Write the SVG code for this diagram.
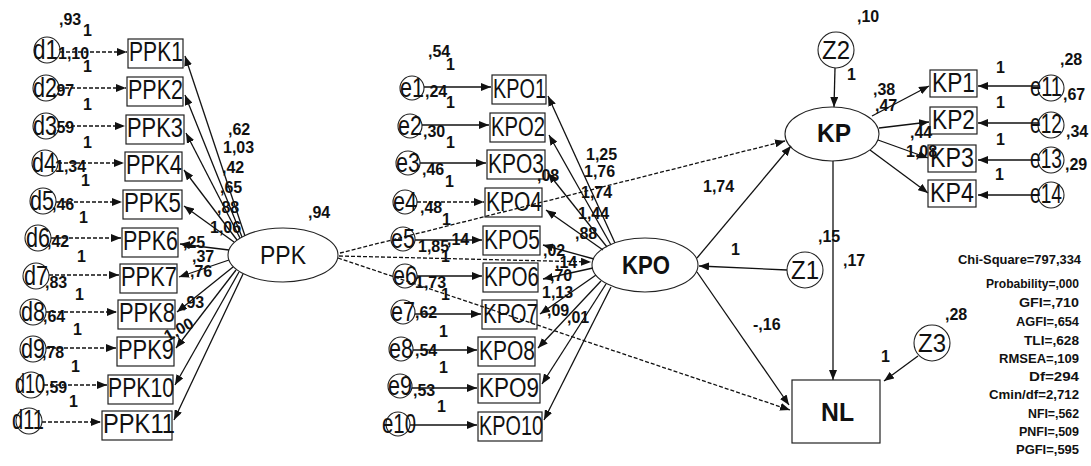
<svg xmlns="http://www.w3.org/2000/svg" width="1091" height="466" viewBox="0 0 1091 466">
<defs>
<marker id="a" viewBox="0 0 10 8" refX="10" refY="4" markerWidth="10" markerHeight="8" markerUnits="userSpaceOnUse" orient="auto"><path d="M0,0 L10,4 L0,8 z" fill="#111"/></marker>
<style>
.ln{stroke:#111;stroke-width:1.3;fill:none;marker-end:url(#a)}
.ds{stroke-dasharray:4 2}
.bx{fill:none;stroke:#222;stroke-width:1.2}
.ci{fill:none;stroke:#222;stroke-width:1.1}
text{font-family:"Liberation Sans",Arial,sans-serif;fill:#111}
.lb{font-size:16px;font-weight:bold}
.nm{font-size:27px}
.lv{font-size:25px}
.st{font-size:13px;font-weight:bold}
</style>
</defs>
<rect width="1091" height="466" fill="#fff"/>

<g id="connectors">
<line class="ln ds" x1="60" y1="52" x2="127" y2="52"/>
<line class="ln ds" x1="59" y1="88" x2="126" y2="88"/>
<line class="ln ds" x1="59" y1="126" x2="125" y2="126"/>
<line class="ln ds" x1="58" y1="163" x2="124" y2="163"/>
<line class="ln ds" x1="56" y1="202" x2="122" y2="202"/>
<line class="ln ds" x1="51" y1="238" x2="121" y2="238"/>
<line class="ln ds" x1="49" y1="275" x2="119" y2="275"/>
<line class="ln ds" x1="46" y1="312" x2="117" y2="312"/>
<line class="ln ds" x1="46" y1="348" x2="116" y2="348"/>
<line class="ln ds" x1="44" y1="385" x2="107" y2="385"/>
<line class="ln ds" x1="42" y1="422" x2="101" y2="422"/>
<line class="ln" x1="245" y1="236" x2="185" y2="56"/>
<line class="ln" x1="242" y1="237" x2="185" y2="95"/>
<line class="ln" x1="240" y1="238" x2="186" y2="133"/>
<line class="ln" x1="237" y1="240" x2="184" y2="170"/>
<line class="ln" x1="234" y1="242" x2="184" y2="206"/>
<line class="ln" x1="229" y1="250" x2="180" y2="244"/>
<line class="ln" x1="229" y1="260" x2="179" y2="277"/>
<line class="ln" x1="233" y1="267" x2="177" y2="312"/>
<line class="ln" x1="236" y1="270" x2="176" y2="348"/>
<line class="ln" x1="239" y1="272" x2="175" y2="385"/>
<line class="ln" x1="243" y1="274" x2="174" y2="420"/>
<line class="ln" x1="424" y1="87" x2="491" y2="87"/>
<line class="ln" x1="422" y1="125" x2="489" y2="125"/>
<line class="ln" x1="420" y1="163" x2="486" y2="163"/>
<line class="ln ds" x1="417" y1="202" x2="484" y2="202"/>
<line class="ln" x1="415" y1="240" x2="482" y2="240"/>
<line class="ln" x1="417" y1="276" x2="482" y2="276"/>
<line class="ln" x1="415" y1="314" x2="481" y2="314"/>
<line class="ln" x1="413" y1="350" x2="477" y2="350"/>
<line class="ln" x1="412" y1="388" x2="477" y2="388"/>
<line class="ln" x1="410" y1="425" x2="477" y2="425"/>
<line class="ln" x1="615" y1="243" x2="548" y2="96"/>
<line class="ln" x1="611" y1="245" x2="549" y2="135"/>
<line class="ln" x1="607" y1="247" x2="548" y2="173"/>
<line class="ln" x1="603" y1="250" x2="546" y2="210"/>
<line class="ln" x1="594" y1="259" x2="543" y2="245"/>
<line class="ln" x1="593" y1="268" x2="543" y2="279"/>
<line class="ln" x1="596" y1="275" x2="540" y2="314"/>
<line class="ln" x1="601" y1="281" x2="538" y2="348"/>
<line class="ln" x1="606" y1="284" x2="542" y2="384"/>
<line class="ln" x1="611" y1="287" x2="544" y2="420"/>
<line class="ln ds" x1="340" y1="253" x2="785" y2="141"/>
<line class="ln ds" x1="339" y1="256" x2="591" y2="262"/>
<line class="ln ds" x1="338" y1="258" x2="790" y2="410"/>
<line class="ln" x1="697" y1="258" x2="791" y2="146"/>
<line class="ln" x1="697" y1="272" x2="789" y2="405"/>
<line class="ln" x1="787" y1="270" x2="699" y2="266"/>
<line class="ln" x1="835" y1="68" x2="834" y2="107"/>
<line class="ln" x1="833" y1="161" x2="833" y2="380"/>
<line class="ln" x1="918" y1="356" x2="884" y2="381"/>
<line class="ln" x1="872" y1="116" x2="929" y2="86"/>
<line class="ln" x1="879" y1="128" x2="929" y2="122"/>
<line class="ln" x1="878" y1="140" x2="928" y2="158"/>
<line class="ln" x1="870" y1="150" x2="928" y2="193"/>
<line class="ln" x1="1038" y1="86" x2="978" y2="86"/>
<line class="ln" x1="1038" y1="123" x2="978" y2="123"/>
<line class="ln" x1="1038" y1="160" x2="978" y2="160"/>
<line class="ln" x1="1038" y1="195" x2="978" y2="195"/>
</g>

<g id="d1"><circle class="ci" cx="47" cy="50" r="13"/><text class="nm" x="33" y="59" textLength="25" lengthAdjust="spacingAndGlyphs">d1</text></g>
<g id="d2"><circle class="ci" cx="46" cy="88" r="13"/><text class="nm" x="33" y="97" textLength="24" lengthAdjust="spacingAndGlyphs">d2</text></g>
<g id="d3"><circle class="ci" cx="46" cy="126" r="13"/><text class="nm" x="33" y="135" textLength="24" lengthAdjust="spacingAndGlyphs">d3</text></g>
<g id="d4"><circle class="ci" cx="45" cy="163" r="13"/><text class="nm" x="32" y="172" textLength="24" lengthAdjust="spacingAndGlyphs">d4</text></g>
<g id="d5"><circle class="ci" cx="43" cy="201" r="13"/><text class="nm" x="30" y="210" textLength="24" lengthAdjust="spacingAndGlyphs">d5</text></g>
<g id="d6"><circle class="ci" cx="38" cy="238" r="13"/><text class="nm" x="26" y="247" textLength="24" lengthAdjust="spacingAndGlyphs">d6</text></g>
<g id="d7"><circle class="ci" cx="36" cy="276" r="13"/><text class="nm" x="24" y="285" textLength="24" lengthAdjust="spacingAndGlyphs">d7</text></g>
<g id="d8"><circle class="ci" cx="33" cy="312" r="13"/><text class="nm" x="21" y="321" textLength="24" lengthAdjust="spacingAndGlyphs">d8</text></g>
<g id="d9"><circle class="ci" cx="33" cy="349" r="13"/><text class="nm" x="21" y="358" textLength="24" lengthAdjust="spacingAndGlyphs">d9</text></g>
<g id="d10"><circle class="ci" cx="31" cy="385" r="13"/><text class="nm" x="15" y="393" textLength="30" lengthAdjust="spacingAndGlyphs">d10</text></g>
<g id="d11"><circle class="ci" cx="29" cy="421" r="13"/><text class="nm" x="12" y="429" textLength="32" lengthAdjust="spacingAndGlyphs">d11</text></g>

<g id="PPK1"><rect class="bx" x="128" y="39" width="55" height="29"/><text class="nm" x="129" y="61" textLength="54" lengthAdjust="spacingAndGlyphs">PPK1</text></g>
<g id="PPK2"><rect class="bx" x="127" y="77" width="56" height="29"/><text class="nm" x="128" y="99" textLength="55" lengthAdjust="spacingAndGlyphs">PPK2</text></g>
<g id="PPK3"><rect class="bx" x="126" y="115" width="58" height="29"/><text class="nm" x="127" y="137" textLength="56" lengthAdjust="spacingAndGlyphs">PPK3</text></g>
<g id="PPK4"><rect class="bx" x="125" y="152" width="57" height="29"/><text class="nm" x="126" y="174" textLength="56" lengthAdjust="spacingAndGlyphs">PPK4</text></g>
<g id="PPK5"><rect class="bx" x="123" y="190" width="59" height="29"/><text class="nm" x="124" y="212" textLength="57" lengthAdjust="spacingAndGlyphs">PPK5</text></g>
<g id="PPK6"><rect class="bx" x="122" y="228" width="56" height="29"/><text class="nm" x="123" y="250" textLength="55" lengthAdjust="spacingAndGlyphs">PPK6</text></g>
<g id="PPK7"><rect class="bx" x="120" y="264" width="57" height="29"/><text class="nm" x="121" y="286" textLength="56" lengthAdjust="spacingAndGlyphs">PPK7</text></g>
<g id="PPK8"><rect class="bx" x="118" y="300" width="57" height="29"/><text class="nm" x="119" y="322" textLength="56" lengthAdjust="spacingAndGlyphs">PPK8</text></g>
<g id="PPK9"><rect class="bx" x="117" y="337" width="57" height="29"/><text class="nm" x="118" y="359" textLength="56" lengthAdjust="spacingAndGlyphs">PPK9</text></g>
<g id="PPK10"><rect class="bx" x="108" y="375" width="65" height="29"/><text class="nm" x="108" y="397" textLength="66" lengthAdjust="spacingAndGlyphs">PPK10</text></g>
<g id="PPK11"><rect class="bx" x="102" y="411" width="70" height="29"/><text class="nm" x="103" y="433" textLength="72" lengthAdjust="spacingAndGlyphs">PPK11</text></g>

<g id="PPK"><ellipse class="ci" cx="283" cy="255" rx="55" ry="27"/><text class="lv" x="260" y="264" textLength="46" lengthAdjust="spacingAndGlyphs">PPK</text></g>

<g id="e1"><circle class="ci" cx="412" cy="88" r="12"/><text class="nm" x="400" y="97" textLength="24" lengthAdjust="spacingAndGlyphs">e1</text></g>
<g id="e2"><circle class="ci" cx="410" cy="126" r="12"/><text class="nm" x="398" y="135" textLength="24" lengthAdjust="spacingAndGlyphs">e2</text></g>
<g id="e3"><circle class="ci" cx="408" cy="163" r="12"/><text class="nm" x="396" y="172" textLength="24" lengthAdjust="spacingAndGlyphs">e3</text></g>
<g id="e4"><circle class="ci" cx="405" cy="202" r="12"/><text class="nm" x="393" y="211" textLength="24" lengthAdjust="spacingAndGlyphs">e4</text></g>
<g id="e5"><circle class="ci" cx="403" cy="239" r="12"/><text class="nm" x="391" y="248" textLength="24" lengthAdjust="spacingAndGlyphs">e5</text></g>
<g id="e6"><circle class="ci" cx="405" cy="276" r="12"/><text class="nm" x="393" y="285" textLength="24" lengthAdjust="spacingAndGlyphs">e6</text></g>
<g id="e7"><circle class="ci" cx="403" cy="312" r="12"/><text class="nm" x="391" y="321" textLength="24" lengthAdjust="spacingAndGlyphs">e7</text></g>
<g id="e8"><circle class="ci" cx="401" cy="349" r="12"/><text class="nm" x="389" y="358" textLength="24" lengthAdjust="spacingAndGlyphs">e8</text></g>
<g id="e9"><circle class="ci" cx="400" cy="386" r="12"/><text class="nm" x="388" y="395" textLength="24" lengthAdjust="spacingAndGlyphs">e9</text></g>
<g id="e10"><circle class="ci" cx="398" cy="424" r="12"/><text class="nm" x="382" y="433" textLength="34" lengthAdjust="spacingAndGlyphs">e10</text></g>

<g id="KPO1"><rect class="bx" x="492" y="75" width="54" height="29"/><text class="nm" x="493" y="98" textLength="53" lengthAdjust="spacingAndGlyphs">KPO1</text></g>
<g id="KPO2"><rect class="bx" x="490" y="113" width="55" height="29"/><text class="nm" x="491" y="136" textLength="54" lengthAdjust="spacingAndGlyphs">KPO2</text></g>
<g id="KPO3"><rect class="bx" x="487" y="150" width="58" height="29"/><text class="nm" x="488" y="173" textLength="56" lengthAdjust="spacingAndGlyphs">KPO3</text></g>
<g id="KPO4"><rect class="bx" x="485" y="188" width="57" height="29"/><text class="nm" x="486" y="211" textLength="56" lengthAdjust="spacingAndGlyphs">KPO4</text></g>
<g id="KPO5"><rect class="bx" x="483" y="226" width="57" height="29"/><text class="nm" x="484" y="249" textLength="56" lengthAdjust="spacingAndGlyphs">KPO5</text></g>
<g id="KPO6"><rect class="bx" x="483" y="263" width="55" height="29"/><text class="nm" x="484" y="286" textLength="55" lengthAdjust="spacingAndGlyphs">KPO6</text></g>
<g id="KPO7"><rect class="bx" x="482" y="300" width="55" height="29"/><text class="nm" x="483" y="323" textLength="55" lengthAdjust="spacingAndGlyphs">KPO7</text></g>
<g id="KPO8"><rect class="bx" x="478" y="337" width="57" height="29"/><text class="nm" x="479" y="360" textLength="56" lengthAdjust="spacingAndGlyphs">KPO8</text></g>
<g id="KPO9"><rect class="bx" x="478" y="374" width="62" height="29"/><text class="nm" x="479" y="397" textLength="60" lengthAdjust="spacingAndGlyphs">KPO9</text></g>
<g id="KPO10"><rect class="bx" x="478" y="412" width="64" height="29"/><text class="nm" x="479" y="435" textLength="64" lengthAdjust="spacingAndGlyphs">KPO10</text></g>

<g id="KPO"><ellipse class="ci" cx="645" cy="265" rx="53" ry="27"/><text class="lv" x="622" y="274" font-weight="bold" textLength="48" lengthAdjust="spacingAndGlyphs">KPO</text></g>

<g id="KP"><ellipse class="ci" cx="832" cy="134" rx="47" ry="27"/><text class="lv" x="817" y="142" font-weight="bold" textLength="34" lengthAdjust="spacingAndGlyphs">KP</text></g>

<g id="Z1"><circle class="ci" cx="805" cy="270" r="18"/><text class="lv" x="791" y="279" textLength="28" lengthAdjust="spacingAndGlyphs">Z1</text></g>
<g id="Z2"><circle class="ci" cx="836" cy="50" r="18"/><text class="lv" x="822" y="59" textLength="28" lengthAdjust="spacingAndGlyphs">Z2</text></g>
<g id="Z3"><circle class="ci" cx="932" cy="343" r="18"/><text class="lv" x="918" y="352" textLength="28" lengthAdjust="spacingAndGlyphs">Z3</text></g>

<g id="KP1"><rect class="bx" x="930" y="70" width="47" height="27"/><text class="nm" x="932" y="92" textLength="43" lengthAdjust="spacingAndGlyphs">KP1</text></g>
<g id="KP2"><rect class="bx" x="930" y="107" width="47" height="27"/><text class="nm" x="932" y="129" textLength="43" lengthAdjust="spacingAndGlyphs">KP2</text></g>
<g id="KP3"><rect class="bx" x="928" y="145" width="48" height="27"/><text class="nm" x="930" y="167" textLength="44" lengthAdjust="spacingAndGlyphs">KP3</text></g>
<g id="KP4"><rect class="bx" x="928" y="180" width="48" height="27"/><text class="nm" x="930" y="202" textLength="44" lengthAdjust="spacingAndGlyphs">KP4</text></g>

<g id="e11"><circle class="ci" cx="1051" cy="88" r="13"/><text class="nm" x="1030" y="96" textLength="32" lengthAdjust="spacingAndGlyphs">e11</text></g>
<g id="e12"><circle class="ci" cx="1051" cy="125" r="13"/><text class="nm" x="1030" y="133" textLength="32" lengthAdjust="spacingAndGlyphs">e12</text></g>
<g id="e13"><circle class="ci" cx="1051" cy="160" r="13"/><text class="nm" x="1030" y="168" textLength="32" lengthAdjust="spacingAndGlyphs">e13</text></g>
<g id="e14"><circle class="ci" cx="1051" cy="195" r="13"/><text class="nm" x="1030" y="203" textLength="32" lengthAdjust="spacingAndGlyphs">e14</text></g>

<g id="NL"><rect class="bx" x="792" y="380" width="88" height="63"/><text class="lv" x="821" y="421" font-weight="bold" textLength="33" lengthAdjust="spacingAndGlyphs">NL</text></g>

<g id="labels">
<text class="lb" x="59" y="25">,93</text><text class="lb" x="83" y="36">1</text>
<text class="lb" x="58" y="59">1,10</text><text class="lb" x="83" y="72">1</text>
<text class="lb" x="52" y="96">,97</text><text class="lb" x="83" y="110">1</text>
<text class="lb" x="52" y="133">,59</text><text class="lb" x="83" y="148">1</text>
<text class="lb" x="55" y="172">1,34</text><text class="lb" x="81" y="186">1</text>
<text class="lb" x="52" y="210">,46</text><text class="lb" x="79" y="223">1</text>
<text class="lb" x="47" y="247">,42</text><text class="lb" x="77" y="262">1</text>
<text class="lb" x="45" y="288">,83</text><text class="lb" x="75" y="300">1</text>
<text class="lb" x="43" y="322">,64</text><text class="lb" x="73" y="335">1</text>
<text class="lb" x="42" y="358">,78</text><text class="lb" x="71" y="372">1</text>
<text class="lb" x="45" y="393">,59</text><text class="lb" x="69" y="407">1</text>

<text class="lb" x="228" y="135">,62</text>
<text class="lb" x="223" y="153">1,03</text>
<text class="lb" x="222" y="173">,42</text>
<text class="lb" x="220" y="193">,65</text>
<text class="lb" x="217" y="213">,88</text>
<text class="lb" x="210" y="233">1,06</text>
<text class="lb" x="183" y="248">,25</text>
<text class="lb" x="192" y="262">,37</text>
<text class="lb" x="190" y="277">,76</text>
<text class="lb" x="182" y="308">,93</text>
<text class="lb" x="168" y="342" transform="rotate(-30 168 342)">1,00</text>
<text class="lb" x="308" y="218">,94</text>

<text class="lb" x="428" y="57">,54</text><text class="lb" x="446" y="70">1</text>
<text class="lb" x="425" y="97">,24</text><text class="lb" x="446" y="108">1</text>
<text class="lb" x="423" y="137">,30</text><text class="lb" x="446" y="148">1</text>
<text class="lb" x="422" y="175">,46</text><text class="lb" x="445" y="187">1</text>
<text class="lb" x="420" y="213">,48</text><text class="lb" x="442" y="225">1</text>
<text class="lb" x="418" y="252">1,85</text><text class="lb" x="447" y="245">,14</text><text class="lb" x="441" y="262">1</text>
<text class="lb" x="415" y="288">1,73</text><text class="lb" x="441" y="300">1</text>
<text class="lb" x="415" y="318">,62</text><text class="lb" x="439" y="337">1</text>
<text class="lb" x="415" y="356">,54</text><text class="lb" x="439" y="373">1</text>
<text class="lb" x="413" y="396">,53</text><text class="lb" x="437" y="412">1</text>

<text class="lb" x="586" y="160">1,25</text>
<text class="lb" x="584" y="177">1,76</text>
<text class="lb" x="581" y="198">1,74</text>
<text class="lb" x="578" y="219">1,44</text>
<text class="lb" x="575" y="239">,88</text>
<text class="lb" x="537" y="181">,08</text>
<text class="lb" x="543" y="256">,02</text>
<text class="lb" x="555" y="268">,14</text>
<text class="lb" x="550" y="281">,70</text>
<text class="lb" x="542" y="298">1,13</text>
<text class="lb" x="547" y="316">,09</text>
<text class="lb" x="567" y="323">,01</text>

<text class="lb" x="703" y="192">1,74</text>
<text class="lb" x="731" y="255">1</text>
<text class="lb" x="753" y="330">-,16</text>
<text class="lb" x="818" y="242">,15</text>
<text class="lb" x="843" y="266">,17</text>
<text class="lb" x="881" y="362">1</text>
<text class="lb" x="945" y="320">,28</text>
<text class="lb" x="857" y="22">,10</text>
<text class="lb" x="847" y="80">1</text>

<text class="lb" x="873" y="95">,38</text>
<text class="lb" x="875" y="111">,47</text>
<text class="lb" x="910" y="138">,44</text>
<text class="lb" x="906" y="157">1,08</text>
<text class="lb" x="996" y="73">1</text>
<text class="lb" x="996" y="108">1</text>
<text class="lb" x="996" y="145">1</text>
<text class="lb" x="995" y="180">1</text>
<text class="lb" x="1060" y="65">,28</text>
<text class="lb" x="1063" y="100">,67</text>
<text class="lb" x="1066" y="137">,34</text>
<text class="lb" x="1065" y="170">,29</text>
</g>

<g id="fit">
<text class="st" x="958" y="264" textLength="123" lengthAdjust="spacingAndGlyphs">Chi-Square=797,334</text>
<text class="st" x="986" y="288" textLength="93" lengthAdjust="spacingAndGlyphs">Probability=,000</text>
<text class="st" x="1019" y="307" textLength="60" lengthAdjust="spacingAndGlyphs">GFI=,710</text>
<text class="st" x="1016" y="326" textLength="63" lengthAdjust="spacingAndGlyphs">AGFI=,654</text>
<text class="st" x="1024" y="345" textLength="55" lengthAdjust="spacingAndGlyphs">TLI=,628</text>
<text class="st" x="999" y="363" textLength="80" lengthAdjust="spacingAndGlyphs">RMSEA=,109</text>
<text class="st" x="1029" y="381" textLength="50" lengthAdjust="spacingAndGlyphs">Df=294</text>
<text class="st" x="989" y="399" textLength="90" lengthAdjust="spacingAndGlyphs">Cmin/df=2,712</text>
<text class="st" x="1028" y="418" textLength="51" lengthAdjust="spacingAndGlyphs">NFI=,562</text>
<text class="st" x="1019" y="436" textLength="60" lengthAdjust="spacingAndGlyphs">PNFI=,509</text>
<text class="st" x="1016" y="454" textLength="63" lengthAdjust="spacingAndGlyphs">PGFI=,595</text>
</g>
</svg>
